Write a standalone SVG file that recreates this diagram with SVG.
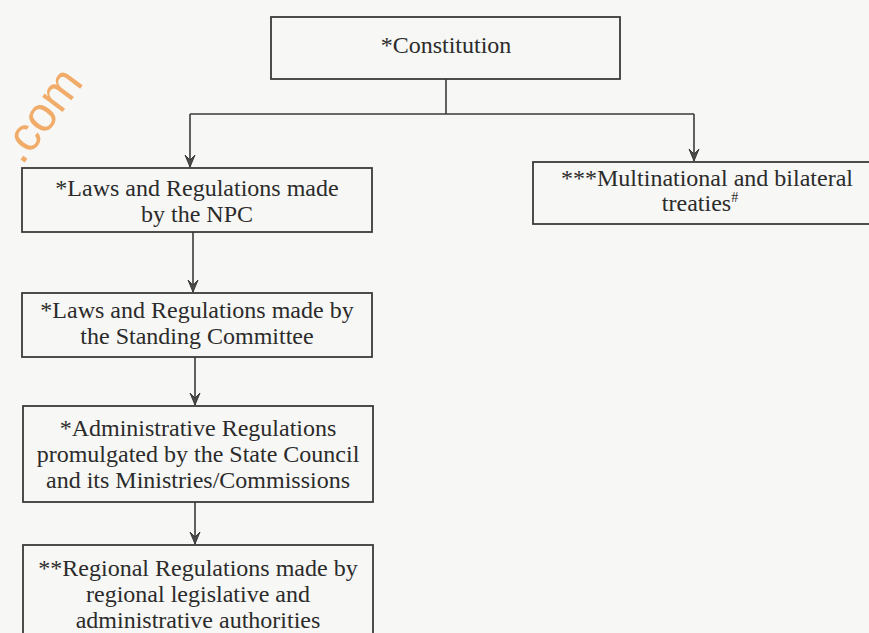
<svg xmlns="http://www.w3.org/2000/svg" width="869" height="633" viewBox="0 0 869 633">
  <defs>
    <style>
      .box { fill: none; stroke: #3a3a3a; stroke-width: 1.8; }
      .lbl { font-family: "Liberation Serif", "DejaVu Serif", "Times New Roman", serif; font-size: 24px; fill: #2b2b2b; text-anchor: middle; }
      .con { fill: none; stroke: #3a3a3a; stroke-width: 1.6; }
      .wm { font-family: "Liberation Sans", Arial, sans-serif; font-size: 48px; fill: #f0ac68; }
    </style>
    <marker id="arr" markerUnits="userSpaceOnUse" markerWidth="16" markerHeight="14" viewBox="-14 -7 16 14" refX="0" refY="0" orient="auto">
      <path d="M-12,-5 L0,0 L-12,5 L-7,0 Z" fill="#4a4a4a" stroke="#3a3a3a" stroke-width="1"/>
    </marker>
  </defs>
  <rect x="0" y="0" width="869" height="633" fill="#f7f7f5"/>
  <text class="wm" transform="translate(22,166) rotate(-53)">.com</text>

  <g id="connectors">
    <path class="con" d="M446,79 V114"/>
    <path class="con" d="M190,114 H694"/>
    <path class="con" d="M190,114 V167" marker-end="url(#arr)"/>
    <path class="con" d="M694,114 V161" marker-end="url(#arr)"/>
    <path class="con" d="M193,232 V292" marker-end="url(#arr)"/>
    <path class="con" d="M195,357 V405" marker-end="url(#arr)"/>
    <path class="con" d="M195,502 V544" marker-end="url(#arr)"/>
  </g>

  <g id="constitution">
    <rect class="box" x="271" y="17" width="349" height="62"/>
    <text class="lbl" x="446" y="53">*Constitution</text>
  </g>

  <g id="npc">
    <rect class="box" x="22" y="168" width="350" height="64"/>
    <text class="lbl" x="197" y="196">*Laws and Regulations made</text>
    <text class="lbl" x="197" y="222">by the NPC</text>
  </g>

  <g id="treaties">
    <rect class="box" x="533" y="162" width="352" height="62"/>
    <text class="lbl" x="707" y="186">***Multinational and bilateral</text>
    <text class="lbl" x="700" y="211">treaties<tspan font-size="14" dy="-9">#</tspan></text>
  </g>

  <g id="standing">
    <rect class="box" x="22" y="293" width="350" height="64"/>
    <text class="lbl" x="197" y="318">*Laws and Regulations made by</text>
    <text class="lbl" x="197" y="344">the Standing Committee</text>
  </g>

  <g id="administrative">
    <rect class="box" x="23" y="406" width="350" height="96"/>
    <text class="lbl" x="198" y="436">*Administrative Regulations</text>
    <text class="lbl" x="198" y="462">promulgated by the State Council</text>
    <text class="lbl" x="198" y="488">and its Ministries/Commissions</text>
  </g>

  <g id="regional">
    <rect class="box" x="23" y="545" width="350" height="100"/>
    <text class="lbl" x="198" y="576">**Regional Regulations made by</text>
    <text class="lbl" x="198" y="602">regional legislative and</text>
    <text class="lbl" x="198" y="628">administrative authorities</text>
  </g>
</svg>
